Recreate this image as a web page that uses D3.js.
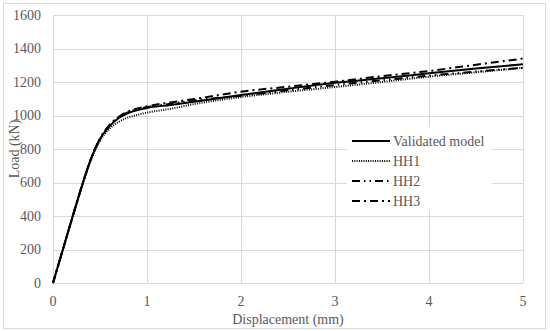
<!DOCTYPE html>
<html>
<head>
<meta charset="utf-8">
<script src="https://cdn.jsdelivr.net/npm/d3@7"></script>
<style>
  body { margin: 0; background: #fff; }
  text { font-family: "Liberation Serif", "Times New Roman", serif; fill: #595959; }
</style>
</head>
<body>
<svg id="chart" width="550" height="331"></svg>
<script>
const xTicks = [0, 1, 2, 3, 4, 5];
const yTicks = [0, 200, 400, 600, 800, 1000, 1200, 1400, 1600];

const disp = [0, 0.1, 0.2, 0.3, 0.4, 0.5, 0.6, 0.7, 0.8, 0.9, 1.0, 1.25, 1.5, 2, 2.5, 3, 3.5, 4, 4.5, 5];
const validated = [0, 190, 380, 565, 735, 860, 935, 985, 1015, 1032, 1045, 1063, 1082, 1122, 1160, 1195, 1222, 1252, 1280, 1306];
const hh1 = [0, 190, 380, 565, 730, 850, 920, 962, 988, 1004, 1017, 1040, 1068, 1110, 1142, 1170, 1200, 1232, 1258, 1285];
const hh2 = [0, 190, 380, 565, 735, 862, 940, 990, 1020, 1038, 1050, 1070, 1090, 1118, 1150, 1182, 1210, 1238, 1262, 1285];
const hh3 = [0, 190, 380, 565, 735, 862, 942, 992, 1024, 1042, 1055, 1078, 1098, 1142, 1172, 1202, 1235, 1266, 1303, 1340];

const series = [
  { name: "Validated model", values: validated, dash: null },
  { name: "HH1", values: hh1, dash: "1,1.3" },
  { name: "HH2", values: hh2, dash: "8,4,1.5,4,1.5,4" },
  { name: "HH3", values: hh3, dash: "8,4,2,4" }
];

const svg = d3.select("#chart");

// outer border
svg.append("rect")
  .attr("x", 3.5).attr("y", 3.5)
  .attr("width", 542).attr("height", 325)
  .attr("fill", "none").attr("stroke", "#d9d9d9");

const x = d3.scaleLinear().domain([0, 5]).range([53, 523]);
const y = d3.scaleLinear().domain([0, 1600]).range([283, 15]);

// gridlines
svg.append("g").selectAll("line").data(yTicks).enter().append("line")
  .attr("x1", x(0)).attr("x2", x(5))
  .attr("y1", d => Math.round(y(d)) + 0.5).attr("y2", d => Math.round(y(d)) + 0.5)
  .attr("stroke", "#d9d9d9");
svg.append("g").selectAll("line").data(xTicks).enter().append("line")
  .attr("y1", y(0)).attr("y2", y(1600))
  .attr("x1", d => Math.round(x(d)) + 0.5).attr("x2", d => Math.round(x(d)) + 0.5)
  .attr("stroke", "#d9d9d9");

// tick labels
svg.append("g").selectAll("text").data(yTicks).enter().append("text")
  .attr("x", 41).attr("y", d => y(d))
  .attr("dy", "0.35em")
  .attr("text-anchor", "end")
  .style("font-size", "14px")
  .text(d => d);
svg.append("g").selectAll("text").data(xTicks).enter().append("text")
  .attr("x", d => x(d)).attr("y", 306)
  .attr("text-anchor", "middle")
  .style("font-size", "14px")
  .text(d => d);

// axis titles
svg.append("text")
  .attr("x", x(2.5)).attr("y", 324)
  .attr("text-anchor", "middle")
  .style("font-size", "14px")
  .text("Displacement (mm)");
svg.append("text")
  .attr("transform", "translate(19," + y(800) + ") rotate(-90)")
  .attr("text-anchor", "middle")
  .style("font-size", "14px")
  .text("Load (kN)");

const line = d3.line()
  .x(d => x(d[0]))
  .y(d => y(d[1]))
  .curve(d3.curveMonotoneX);

svg.append("g").selectAll("path").data(series).enter().append("path")
  .attr("d", s => line(disp.map((d, i) => [d, s.values[i]])))
  .attr("fill", "none")
  .attr("stroke", "#000")
  .attr("stroke-width", 2)
  .attr("stroke-dasharray", s => s.dash);

// legend
const legend = svg.append("g");
legend.append("rect")
  .attr("x", 347).attr("y", 127)
  .attr("width", 145).attr("height", 83)
  .attr("fill", "#fff");
const rows = legend.selectAll("g").data(series).enter().append("g")
  .attr("transform", (d, i) => "translate(0," + (141 + i * 20) + ")");
rows.append("line")
  .attr("x1", 352).attr("x2", 390)
  .attr("stroke", "#000").attr("stroke-width", 2)
  .attr("stroke-dasharray", s => s.dash);
rows.append("text")
  .attr("x", 393).attr("dy", "0.35em")
  .style("font-size", "14px")
  .text(s => s.name);
</script>
</body>
</html>
